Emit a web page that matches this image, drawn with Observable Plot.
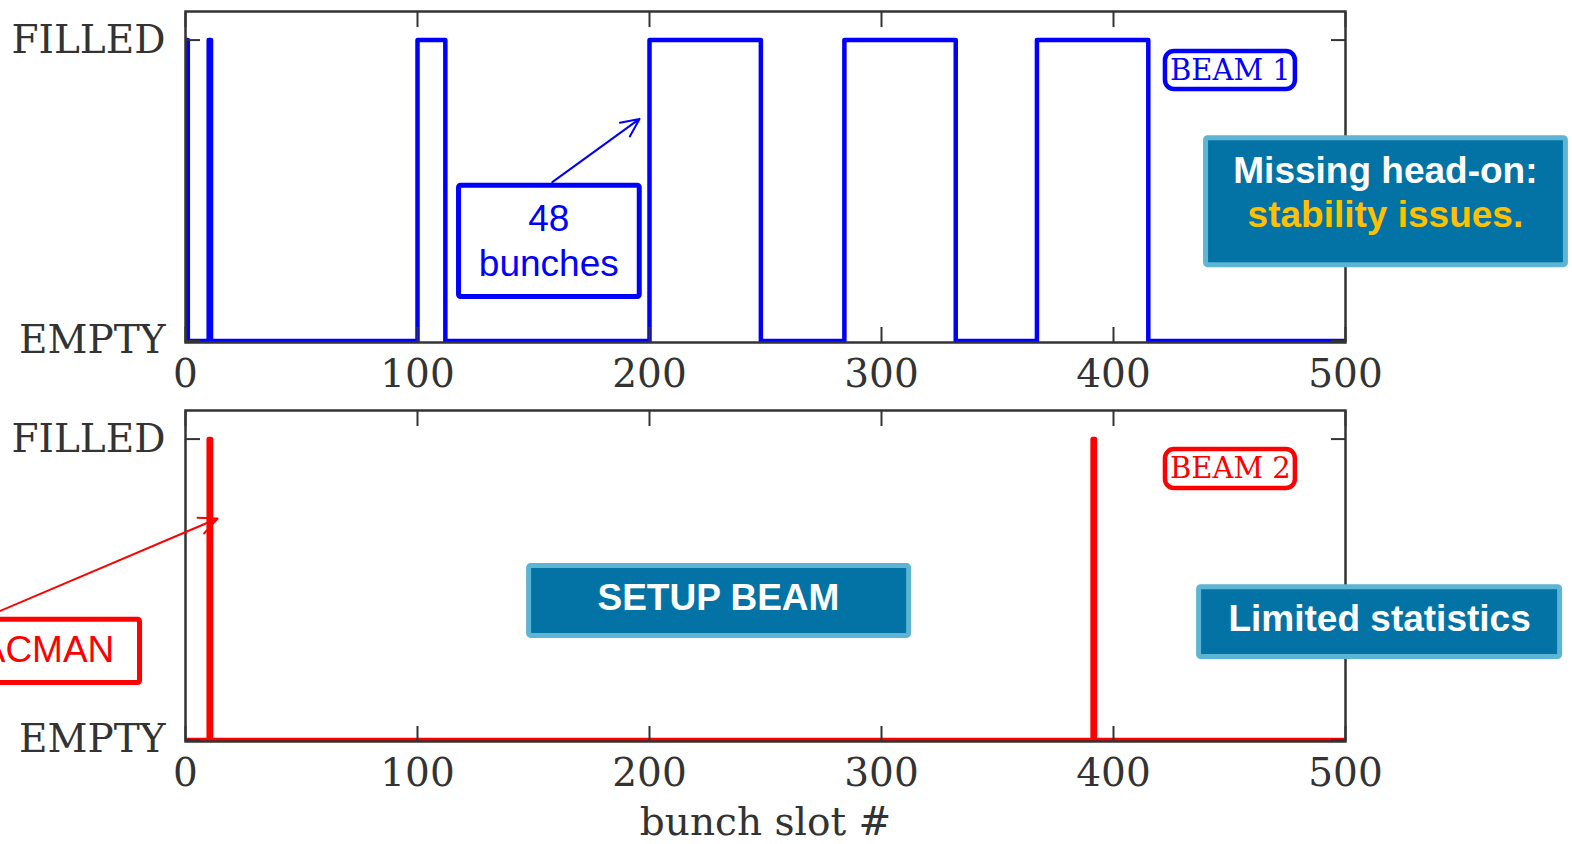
<!DOCTYPE html>
<html>
<head>
<meta charset="utf-8">
<script src="https://cdn.jsdelivr.net/npm/d3@7"></script>
<script src="https://cdn.jsdelivr.net/npm/@observablehq/plot@0.6"></script>
<style>
  html, body { margin: 0; padding: 0; background: #fff; overflow: hidden; }
  #chart svg { display: block; }
</style>
</head>
<body>
<div id="chart"></div>
<script>
// Filling schemes: each bunch train is given by its first slot and its number of bunches
const slotTicks = [0, 100, 200, 300, 400, 500];
const levelTicks = [0, 1];
const levelLabels = ["EMPTY", "FILLED"];
const lastSlot = 500;

const beam1TrainStart = [0, 10, 100, 200, 284, 367];
const beam1TrainLength = [1, 1, 12, 48, 48, 48];

const beam2TrainStart = [10, 391];
const beam2TrainLength = [1, 1];

// Slot-by-slot occupancy (1 = filled, 0 = empty)
function fillPattern(starts, lengths) {
  const filled = new Set();
  starts.forEach((s, i) => d3.range(s, s + lengths[i]).forEach((k) => filled.add(k)));
  return d3.range(0, lastSlot + 1).map((slot) => ({slot, level: filled.has(slot) ? 1 : 0}));
}

// Callouts, placed in (slot, level) units
const teal = "#0373a6";
const tealEdge = "#5db4d3";
const gold = "#ffc000";

const beam1Notes = {
  tag: {label: "BEAM 1", x: 450.4, y: 0.899, x1: 422.4, x2: 478.4, y1: 0.836, y2: 0.962},
  outlineBoxes: [{x1: 117.9, x2: 195.8, y1: 0.146, y2: 0.516}],
  outlineTexts: [
    {label: "48", x: 156.6, y: 0.406},
    {label: "bunches", x: 156.6, y: 0.256}
  ],
  arrows: [{x1: 158.1, y1: 0.528, x2: 195.7, y2: 0.738}],
  arrowHead: 15,
  tealBoxes: [{x1: 439.9, x2: 595.0, y1: 0.252, y2: 0.674}],
  tealTexts: [
    {label: "Missing head-on:", x: 517.2, y: 0.566, color: "#ffffff"},
    {label: "stability issues.", x: 517.2, y: 0.417, color: gold}
  ]
};

const beam2Notes = {
  tag: {label: "BEAM 2", x: 450.4, y: 0.902, x1: 422.4, x2: 478.4, y1: 0.836, y2: 0.965},
  outlineBoxes: [{x1: -103, x2: -19.6, y1: 0.189, y2: 0.400}],
  outlineTexts: [{label: "PACMAN", x: -64.2, y: 0.297}],
  arrows: [{x1: -86.6, y1: 0.407, x2: 13.8, y2: 0.736}],
  arrowHead: 15,
  tealBoxes: [
    {x1: 148.1, x2: 311.9, y1: 0.346, y2: 0.578},
    {x1: 436.9, x2: 592.5, y1: 0.276, y2: 0.508}
  ],
  tealTexts: [
    {label: "SETUP BEAM", x: 229.7, y: 0.470, color: "#ffffff"},
    {label: "Limited statistics", x: 514.7, y: 0.400, color: "#ffffff"}
  ]
};

const serif = "DejaVu Serif";
const sans = "Liberation Sans, Arial, sans-serif";
const ink = "#333333";

function panel({series, color, height, marginTop, marginBottom, notes, xLabel}) {
  return Plot.plot({
    width: 1572,
    height,
    marginLeft: 185,
    marginRight: 227,
    marginTop,
    marginBottom,
    x: {domain: [0, lastSlot]},
    y: {domain: [-0.005, 1.095]},
    style: {fontFamily: serif, color: ink, background: "transparent"},
    marks: [
      Plot.line(series, {
        x: "slot", y: "level", curve: "step-after",
        stroke: color, strokeWidth: 4.5, strokeLinejoin: "round", strokeLinecap: "round", clip: true
      }),
      // tick labels
      Plot.axisX({anchor: "bottom", ticks: slotTicks, tickSize: 0, tickPadding: 17, fontSize: 39, label: null}),
      Plot.axisY({anchor: "left", ticks: levelTicks, tickFormat: (d) => levelLabels[d], tickSize: 0, tickPadding: 20, fontSize: 39, label: null}),
      // inward ticks on all four sides
      Plot.axisX({anchor: "bottom", ticks: slotTicks, tickSize: -15, fill: "none", label: null, strokeWidth: 2}),
      Plot.axisX({anchor: "top", ticks: slotTicks, tickSize: -15, fill: "none", label: null, strokeWidth: 2}),
      Plot.axisY({anchor: "left", ticks: levelTicks, tickSize: -15, fill: "none", label: null, strokeWidth: 2}),
      Plot.axisY({anchor: "right", ticks: levelTicks, tickSize: -15, fill: "none", label: null, strokeWidth: 2}),
      Plot.frame({stroke: ink, strokeWidth: 2.5}),
      xLabel ? Plot.text([xLabel], {frameAnchor: "bottom", lineAnchor: "middle", dy: 81, fontSize: 39, fill: ink, fontFamily: serif}) : null,
      // beam tag
      Plot.rect([notes.tag], {x1: "x1", x2: "x2", y1: "y1", y2: "y2", rx: 9, fill: "white", stroke: color, strokeWidth: 4.5}),
      Plot.text([notes.tag], {x: "x", y: "y", text: "label", fill: color, fontSize: 29, fontFamily: serif}),
      // outlined callouts with arrows
      Plot.rect(notes.outlineBoxes, {x1: "x1", x2: "x2", y1: "y1", y2: "y2", rx: 2, fill: "white", stroke: color, strokeWidth: 5}),
      Plot.text(notes.outlineTexts, {x: "x", y: "y", text: "label", fill: color, fontSize: 37, fontFamily: sans}),
      Plot.arrow(notes.arrows, {x1: "x1", y1: "y1", x2: "x2", y2: "y2", stroke: color, strokeWidth: 2, headLength: notes.arrowHead, headAngle: 50}),
      // filled teal callouts
      Plot.rect(notes.tealBoxes, {x1: "x1", x2: "x2", y1: "y1", y2: "y2", rx: 2, fill: teal, stroke: tealEdge, strokeWidth: 5}),
      Plot.text(notes.tealTexts, {x: "x", y: "y", text: "label", fill: "color", fontSize: 37, fontWeight: "bold", fontFamily: sans})
    ]
  });
}

const chart = document.getElementById("chart");
chart.append(panel({series: fillPattern(beam1TrainStart, beam1TrainLength), color: "#0000ff", height: 400, marginTop: 11, marginBottom: 58, notes: beam1Notes}));
chart.append(panel({series: fillPattern(beam2TrainStart, beam2TrainLength), color: "#ff0000", height: 444, marginTop: 10, marginBottom: 103, notes: beam2Notes, xLabel: "bunch slot #"}));
</script>
</body>
</html>
